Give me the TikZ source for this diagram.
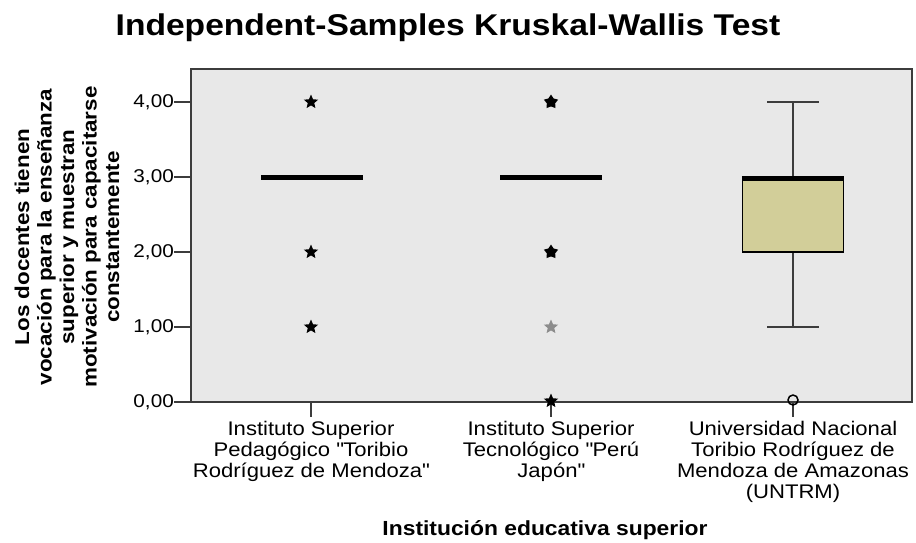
\documentclass[tikz,border=0pt]{standalone}
\usepackage{fontspec}
\setmainfont{Liberation Sans}[FakeStretch=1.12]
\usetikzlibrary{shapes.geometric}
\definecolor{plotbg}{RGB}{232,232,232}
\definecolor{boxfill}{RGB}{210,206,153}
\definecolor{framegray}{RGB}{60,60,60}

\begin{document}
\begin{tikzpicture}[x=1pt, y=-1pt,
  outlier/.style = {star, star points=5, star point ratio=2.2, fill=black, inner sep=0pt, minimum size=15pt},
  boldout/.style = {outlier, star point ratio=1.7, minimum size=15pt},
  faintout/.style = {outlier, fill=black!45},
  ticklab/.style = {anchor=east, inner sep=0pt, font=\fontsize{18.5}{20}\selectfont},
  grouplab/.style = {anchor=north, inner sep=0pt, align=center, font=\fontsize{19.7}{21}\selectfont},
  axistitle/.style = {font=\fontsize{20}{22.5}\selectfont\bfseries, align=center, inner sep=0pt},
  median/.style = {line width=5pt},
  boxmain/.style = {draw=black, line width=1.5pt, fill=boxfill, minimum width=101pt, minimum height=75pt, inner sep=0pt}]
  \useasboundingbox (0,0) rectangle (916,542);

  % title
  \node[anchor=base, inner sep=0pt, font=\fontsize{30}{34}\selectfont\bfseries] (title) at (448,35) {Independent-Samples Kruskal-Wallis Test};

  % plot area
  \draw[framegray, line width=1.5pt, fill=plotbg] (191,69) rectangle (912,402);

  % y axis
  \foreach \v in {0,...,4} {
    \node[ticklab] (ylab\v) at (174,{402-75*\v}) {\v,00};
    \draw[framegray, line width=1.2pt] (ylab\v.east) -- (191,{402-75*\v});
  }
  \node[axistitle, rotate=90] (ytitle) at (67,237) {Los docentes tienen\\vocación para la enseñanza\\superior y muestran\\motivación para capacitarse\\constantemente};

  % x axis
  \foreach \x/\g in {311/1, 551/2, 793/3} {
    \coordinate (tick\g) at (\x,402);
    \draw[framegray, line width=1.2pt] (tick\g) -- ++(0,15);
  }
  \node[grouplab] (glab1) at (311,421) {Instituto Superior\\Pedagógico \textquotedbl Toribio\\Rodríguez de Mendoza\textquotedbl};
  \node[grouplab] (glab2) at (551,421) {Instituto Superior\\Tecnológico \textquotedbl Perú\\Japón\textquotedbl};
  \node[grouplab] (glab3) at (793,421) {Universidad Nacional\\Toribio Rodríguez de\\Mendoza de Amazonas\\(UNTRM)};
  \node[axistitle, anchor=base, font=\fontsize{20.4}{22.5}\selectfont\bfseries] (xtitle) at (545,535) {Institución educativa superior};

  % group 1
  \draw[median] (261,177) -- (363,177);
  \node[outlier] (o1a) at (311,102) {};
  \node[outlier] (o1b) at (311,252) {};
  \node[outlier] (o1c) at (311,327) {};

  % group 2
  \draw[median] (500,177) -- (602,177);
  \node[boldout] (o2a) at (551,102) {};
  \node[boldout] (o2b) at (551,252) {};
  \node[faintout] (o2c) at (551,327) {};
  \node[outlier] (o2d) at (551,401) {};

  % group 3
  \node[boxmain] (box3) at (793,214.5) {};
  \draw[median] ([yshift=-2.5pt]box3.north west) -- ([yshift=-2.5pt]box3.north east);
  \coordinate (hi3) at (793,102);
  \coordinate (lo3) at (793,327);
  \draw[framegray, line width=1.5pt] (box3.north) -- (hi3);
  \draw[framegray, line width=1.5pt] (box3.south) -- (lo3);
  \draw[framegray, line width=1.5pt] ([xshift=-26pt]hi3) -- ([xshift=26pt]hi3);
  \draw[framegray, line width=1.5pt] ([xshift=-26pt]lo3) -- ([xshift=26pt]lo3);
  \node[draw=black, line width=1.5pt, circle, minimum size=10pt, inner sep=0pt] (o3a) at (793,400) {};
\end{tikzpicture}
\end{document}
